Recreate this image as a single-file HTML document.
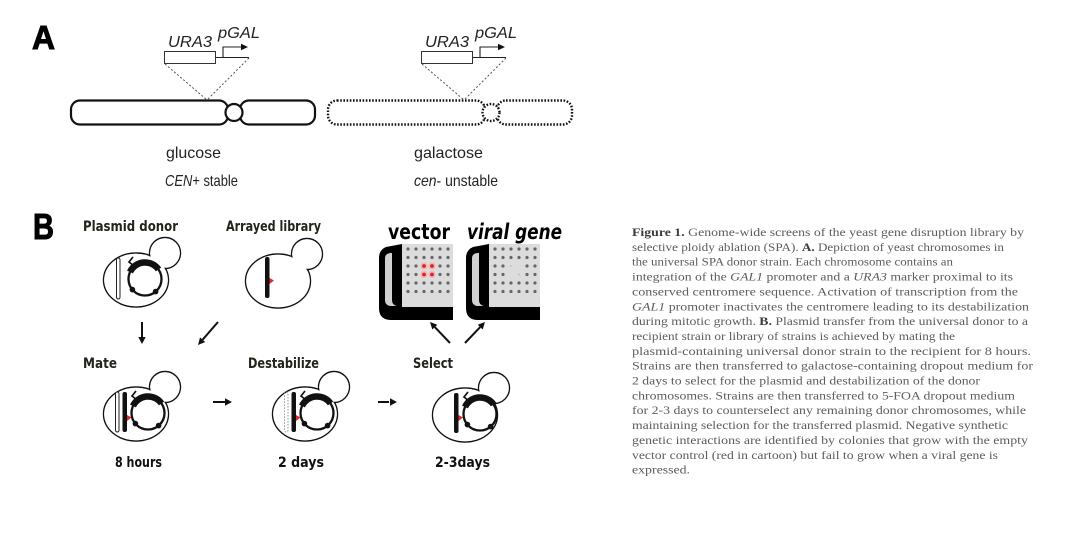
<!DOCTYPE html>
<html><head><meta charset="utf-8"><style>
html,body{margin:0;padding:0;background:#fff;}
svg{display:block;}
</style></head><body>
<svg width="1080" height="539" viewBox="0 0 1080 539" xmlns="http://www.w3.org/2000/svg">
<rect width="1080" height="539" fill="#fff"/>
<defs>
  <g id="plasmid">
    <circle cx="0" cy="0" r="16.5" fill="none" stroke="#111" stroke-width="2.3"/>
    <path d="M -15 -7 A 16.5 16.5 0 0 1 13.5 -9.5" fill="none" stroke="#111" stroke-width="6.5"/>
    <polyline points="-11,-13 -16,-17 -12,-22" fill="none" stroke="#111" stroke-width="1.7"/>
    <circle cx="-12.6" cy="10.6" r="2.8" fill="#111"/>
    <circle cx="10.6" cy="12.6" r="2.8" fill="#111"/>
  </g>
  <g id="cellshape">
    <ellipse cx="0" cy="0" rx="32.5" ry="27" fill="none" stroke="#111" stroke-width="1.4"/>
    <circle cx="29" cy="-27" r="15.5" fill="none" stroke="#111" stroke-width="1.4"/>
    <ellipse cx="0" cy="0" rx="31.8" ry="26.3" fill="#fff"/>
    <circle cx="29" cy="-27" r="14.8" fill="#fff"/>
  </g>
</defs>

<!-- ===== Part A ===== -->
<text x="32" y="49" font-family="Liberation Sans, sans-serif" font-weight="bold" font-size="33" fill="#000" stroke="#000" stroke-width="1" textLength="23" lengthAdjust="spacingAndGlyphs">A</text>

<g font-family="Liberation Sans, sans-serif" font-style="italic" font-size="16" fill="#222">
  <text x="168" y="47" textLength="44" lengthAdjust="spacingAndGlyphs">URA3</text>
  <text x="218" y="38" textLength="42" lengthAdjust="spacingAndGlyphs">pGAL</text>
  <text x="425" y="47" textLength="44" lengthAdjust="spacingAndGlyphs">URA3</text>
  <text x="475" y="38" textLength="42" lengthAdjust="spacingAndGlyphs">pGAL</text>
</g>
<g stroke="#333" stroke-width="1" fill="#fff">
  <rect x="164.5" y="51.5" width="51" height="12"/>
  <rect x="421.5" y="51.5" width="51" height="12"/>
</g>
<g stroke="#222" stroke-width="1.1" fill="none">
  <polyline points="216,57.5 249,57.5"/>
  <polyline points="223,57.5 223,47 242,47"/>
  <polyline points="473,57.5 506,57.5"/>
  <polyline points="480,57.5 480,47 499,47"/>
</g>
<polygon points="241,43.8 248,47 241,50.2" fill="#111"/>
<polygon points="498,43.8 505,47 498,50.2" fill="#111"/>
<g stroke="#555" stroke-width="1" stroke-dasharray="2 2" fill="none">
  <line x1="165" y1="64" x2="207" y2="100"/>
  <line x1="249" y1="58" x2="207" y2="100"/>
  <line x1="422" y1="64" x2="464" y2="100"/>
  <line x1="506" y1="58" x2="464" y2="100"/>
</g>

<g stroke="#111" stroke-width="2.2" fill="#fff">
  <rect x="71" y="100.5" width="157" height="24" rx="9"/>
  <rect x="240" y="100.5" width="75" height="24" rx="9"/>
  <circle cx="234" cy="112.5" r="8.5"/>
</g>
<g stroke="#111" stroke-width="2.4" fill="#fff" stroke-dasharray="1.6 1.6">
  <rect x="328" y="100.5" width="157" height="24" rx="9"/>
  <rect x="497" y="100.5" width="75" height="24" rx="9"/>
  <circle cx="491" cy="112.5" r="8.5"/>
</g>

<g font-family="Liberation Sans, sans-serif" font-size="16" fill="#222">
  <text x="166" y="158" textLength="55" lengthAdjust="spacingAndGlyphs">glucose</text>
  <text x="165" y="186" textLength="73" lengthAdjust="spacingAndGlyphs"><tspan font-style="italic">CEN</tspan>+ stable</text>
  <text x="414" y="158" textLength="69" lengthAdjust="spacingAndGlyphs">galactose</text>
  <text x="414" y="186" textLength="84" lengthAdjust="spacingAndGlyphs"><tspan font-style="italic">cen</tspan>- unstable</text>
</g>

<!-- ===== Part B ===== -->
<text x="33" y="239" font-family="Liberation Sans, sans-serif" font-weight="bold" font-size="36" fill="#000" stroke="#000" stroke-width="1" textLength="21" lengthAdjust="spacingAndGlyphs">B</text>

<g font-family="DejaVu Sans, sans-serif" font-weight="bold" font-size="14.5" fill="#23231c">
  <text x="83" y="231" textLength="95" lengthAdjust="spacingAndGlyphs">Plasmid donor</text>
  <text x="226" y="231" textLength="95" lengthAdjust="spacingAndGlyphs">Arrayed library</text>
  <text x="83" y="368" textLength="34" lengthAdjust="spacingAndGlyphs">Mate</text>
  <text x="248" y="368" textLength="71" lengthAdjust="spacingAndGlyphs">Destabilize</text>
  <text x="413" y="368" textLength="40" lengthAdjust="spacingAndGlyphs">Select</text>
  <text x="115" y="467" textLength="47" lengthAdjust="spacingAndGlyphs" fill="#111">8 hours</text>
  <text x="278" y="467" textLength="46" lengthAdjust="spacingAndGlyphs" fill="#111">2 days</text>
  <text x="435" y="467" textLength="55" lengthAdjust="spacingAndGlyphs" fill="#111">2-3days</text>
</g>

<!-- Donor cell -->
<use href="#cellshape" x="136" y="280"/>
<rect x="116.5" y="258" width="3.5" height="41" rx="1.7" fill="#fff" stroke="#222" stroke-width="1"/>
<use href="#plasmid" x="145" y="279"/>

<!-- Arrayed cell -->
<use href="#cellshape" x="278" y="281"/>
<rect x="265" y="257" width="4.5" height="41" rx="2" fill="#111"/>
<polygon points="269.5,278 274,280.5 269.5,284" fill="#e02a2a"/>

<!-- Mate cell -->
<use href="#cellshape" x="136" y="414"/>
<rect x="115.5" y="392" width="3.5" height="40" rx="1.7" fill="#fff" stroke="#222" stroke-width="1"/>
<rect x="122.5" y="392" width="4.5" height="40" rx="2" fill="#111"/>
<polygon points="127,415 131.5,417.5 127,421" fill="#e02a2a"/>
<use href="#plasmid" x="148" y="413"/>

<!-- Destabilize cell -->
<use href="#cellshape" x="305" y="414"/>
<rect x="284.5" y="392" width="3.5" height="40" rx="1.7" fill="none" stroke="#888" stroke-width="0.9" stroke-dasharray="1.5 1.5"/>
<rect x="291.5" y="392" width="4.5" height="40" rx="2" fill="#111"/>
<polygon points="296,415 300.5,417.5 296,421" fill="#e02a2a"/>
<use href="#plasmid" x="317" y="413"/>

<!-- Select cell -->
<use href="#cellshape" x="465" y="415"/>
<rect x="454" y="393" width="4.5" height="40" rx="2" fill="#111"/>
<polygon points="458.5,415 463,417.5 458.5,421" fill="#e02a2a"/>
<use href="#plasmid" x="480" y="414"/>

<!-- arrows -->
<g stroke="#111" stroke-width="2" fill="none">
  <line x1="142" y1="322" x2="142" y2="338"/>
  <line x1="218" y1="322" x2="202.6" y2="339.7"/>
  <line x1="213" y1="402" x2="226" y2="402"/>
  <line x1="378" y1="402" x2="389" y2="402"/>
  <line x1="450" y1="343" x2="434.8" y2="327.1"/>
  <line x1="465" y1="343" x2="480.2" y2="327.1"/>
</g>
<g fill="#111">
  <polygon points="138.3,337 145.7,337 142,344"/>
  <polygon points="205.2,342.0 200.0,337.4 198,345"/>
  <polygon points="225,398.3 232,402 225,405.7"/>
  <polygon points="390,398.3 397,402 390,405.7"/>
  <polygon points="437.3,324.7 432.3,329.5 430,322"/>
  <polygon points="482.7,329.5 477.7,324.7 485,322"/>
</g>

<!-- Plates -->
<text x="388" y="239" font-family="DejaVu Sans, sans-serif" font-weight="bold" font-size="21.5" fill="#000" textLength="62" lengthAdjust="spacingAndGlyphs">vector</text>
<text x="467" y="239" font-family="DejaVu Sans, sans-serif" font-weight="bold" font-style="italic" font-size="21.5" fill="#000" textLength="95" lengthAdjust="spacingAndGlyphs">viral gene</text>

<g>
  <rect x="401" y="244" width="52" height="64" fill="#dcdcdc"/>
  <path d="M 386 247 L 402 244 L 402 307 L 453 307 L 453 320 L 391 320 Q 379 320 379 308 L 379 258 Q 379 250 386 247 Z" fill="#000"/>
  <path d="M 385 258 Q 385 254 390 253 L 392 253 L 392 300 Q 392 305 397 306 L 390 306 Q 385 305 385 300 Z" fill="#d0d0d0"/>
</g>
<g transform="translate(87,0)">
  <rect x="401" y="244" width="52" height="64" fill="#dcdcdc"/>
  <path d="M 386 247 L 402 244 L 402 307 L 453 307 L 453 320 L 391 320 Q 379 320 379 308 L 379 258 Q 379 250 386 247 Z" fill="#000"/>
  <path d="M 385 258 Q 385 254 390 253 L 392 253 L 392 300 Q 392 305 397 306 L 390 306 Q 385 305 385 300 Z" fill="#d0d0d0"/>
</g>

<g fill="#666">
  <circle cx="408" cy="249" r="1.6"/><circle cx="416" cy="249" r="1.6"/><circle cx="424" cy="249" r="1.6"/><circle cx="432" cy="249" r="1.6"/><circle cx="440" cy="249" r="1.6"/><circle cx="448" cy="249" r="1.6"/>
  <circle cx="408" cy="257.5" r="1.6"/><circle cx="416" cy="257.5" r="1.6"/><circle cx="424" cy="257.5" r="1.6"/><circle cx="432" cy="257.5" r="1.6"/><circle cx="440" cy="257.5" r="1.6"/><circle cx="448" cy="257.5" r="1.6"/>
  <circle cx="408" cy="266" r="1.6"/><circle cx="416" cy="266" r="1.6"/><circle cx="440" cy="266" r="1.6"/><circle cx="448" cy="266" r="1.6"/>
  <circle cx="408" cy="274.5" r="1.6"/><circle cx="416" cy="274.5" r="1.6"/><circle cx="440" cy="274.5" r="1.6"/><circle cx="448" cy="274.5" r="1.6"/>
  <circle cx="408" cy="283" r="1.6"/><circle cx="416" cy="283" r="1.6"/><circle cx="424" cy="283" r="1.6"/><circle cx="432" cy="283" r="1.6"/><circle cx="440" cy="283" r="1.6"/><circle cx="448" cy="283" r="1.6"/>
  <circle cx="408" cy="291.5" r="1.6"/><circle cx="416" cy="291.5" r="1.6"/><circle cx="424" cy="291.5" r="1.6"/><circle cx="432" cy="291.5" r="1.6"/><circle cx="440" cy="291.5" r="1.6"/><circle cx="448" cy="291.5" r="1.6"/>
</g>
<g fill="#f2b4b4">
  <circle cx="424" cy="266" r="3.6"/><circle cx="432" cy="266" r="3.6"/><circle cx="424" cy="274.5" r="3.6"/><circle cx="432" cy="274.5" r="3.6"/>
</g>
<g fill="#d42828">
  <circle cx="424" cy="266" r="1.9"/><circle cx="432" cy="266" r="1.9"/><circle cx="424" cy="274.5" r="1.9"/><circle cx="432" cy="274.5" r="1.9"/>
</g>

<g fill="#666">
  <circle cx="495" cy="249" r="1.6"/><circle cx="503" cy="249" r="1.6"/><circle cx="511" cy="249" r="1.6"/><circle cx="519" cy="249" r="1.6"/><circle cx="527" cy="249" r="1.6"/><circle cx="535" cy="249" r="1.6"/>
  <circle cx="495" cy="257.5" r="1.6"/><circle cx="503" cy="257.5" r="1.6"/><circle cx="511" cy="257.5" r="1.6"/><circle cx="519" cy="257.5" r="1.6"/><circle cx="527" cy="257.5" r="1.6"/><circle cx="535" cy="257.5" r="1.6"/>
  <circle cx="495" cy="266" r="1.6"/><circle cx="503" cy="266" r="1.6"/><circle cx="527" cy="266" r="1.6"/><circle cx="535" cy="266" r="1.6"/>
  <circle cx="495" cy="274.5" r="1.6"/><circle cx="503" cy="274.5" r="1.6"/><circle cx="527" cy="274.5" r="1.6"/><circle cx="535" cy="274.5" r="1.6"/>
  <circle cx="495" cy="283" r="1.6"/><circle cx="503" cy="283" r="1.6"/><circle cx="511" cy="283" r="1.6"/><circle cx="519" cy="283" r="1.6"/><circle cx="527" cy="283" r="1.6"/><circle cx="535" cy="283" r="1.6"/>
  <circle cx="495" cy="291.5" r="1.6"/><circle cx="503" cy="291.5" r="1.6"/><circle cx="511" cy="291.5" r="1.6"/><circle cx="519" cy="291.5" r="1.6"/><circle cx="527" cy="291.5" r="1.6"/><circle cx="535" cy="291.5" r="1.6"/>
</g>
<g fill="#aaa">
  <circle cx="511" cy="266" r="0.7"/><circle cx="519" cy="274.5" r="0.7"/>
</g>

<!-- ===== Caption ===== -->
<g font-family="Liberation Serif, serif" font-size="12" fill="#5c5c5c">
  <text x="632" y="236" textLength="392" lengthAdjust="spacingAndGlyphs"><tspan font-weight="bold" fill="#3a3a3a">Figure 1.</tspan> Genome-wide screens of the yeast gene disruption library by</text>
  <text x="632" y="250.9" textLength="372" lengthAdjust="spacingAndGlyphs">selective ploidy ablation (SPA). <tspan font-weight="bold" fill="#3a3a3a">A.</tspan> Depiction of yeast chromosomes in</text>
  <text x="632" y="265.7" textLength="321" lengthAdjust="spacingAndGlyphs">the universal SPA donor strain. Each chromosome contains an</text>
  <text x="632" y="280.6" textLength="381" lengthAdjust="spacingAndGlyphs">integration of the <tspan font-style="italic">GAL1</tspan> promoter and a <tspan font-style="italic">URA3</tspan> marker proximal to its</text>
  <text x="632" y="295.4" textLength="386" lengthAdjust="spacingAndGlyphs">conserved centromere sequence. Activation of transcription from the</text>
  <text x="632" y="310.3" textLength="397" lengthAdjust="spacingAndGlyphs"><tspan font-style="italic">GAL1</tspan> promoter inactivates the centromere leading to its destabilization</text>
  <text x="632" y="325.1" textLength="396" lengthAdjust="spacingAndGlyphs">during mitotic growth. <tspan font-weight="bold" fill="#3a3a3a">B.</tspan> Plasmid transfer from the universal donor to a</text>
  <text x="632" y="340" textLength="323" lengthAdjust="spacingAndGlyphs">recipient strain or library of strains is achieved by mating the</text>
  <text x="632" y="354.8" textLength="399" lengthAdjust="spacingAndGlyphs">plasmid-containing universal donor strain to the recipient for 8 hours.</text>
  <text x="632" y="369.7" textLength="401" lengthAdjust="spacingAndGlyphs">Strains are then transferred to galactose-containing dropout medium for</text>
  <text x="632" y="384.5" textLength="348" lengthAdjust="spacingAndGlyphs">2 days to select for the plasmid and destabilization of the donor</text>
  <text x="632" y="399.4" textLength="383" lengthAdjust="spacingAndGlyphs">chromosomes. Strains are then transferred to 5-FOA dropout medium</text>
  <text x="632" y="414.2" textLength="394" lengthAdjust="spacingAndGlyphs">for 2-3 days to counterselect any remaining donor chromosomes, while</text>
  <text x="632" y="429.1" textLength="376" lengthAdjust="spacingAndGlyphs">maintaining selection for the transferred plasmid. Negative synthetic</text>
  <text x="632" y="443.9" textLength="396" lengthAdjust="spacingAndGlyphs">genetic interactions are identified by colonies that grow with the empty</text>
  <text x="632" y="458.8" textLength="366" lengthAdjust="spacingAndGlyphs">vector control (red in cartoon) but fail to grow when a viral gene is</text>
  <text x="632" y="473.6" textLength="58" lengthAdjust="spacingAndGlyphs">expressed.</text>
</g>
</svg>
</body></html>
